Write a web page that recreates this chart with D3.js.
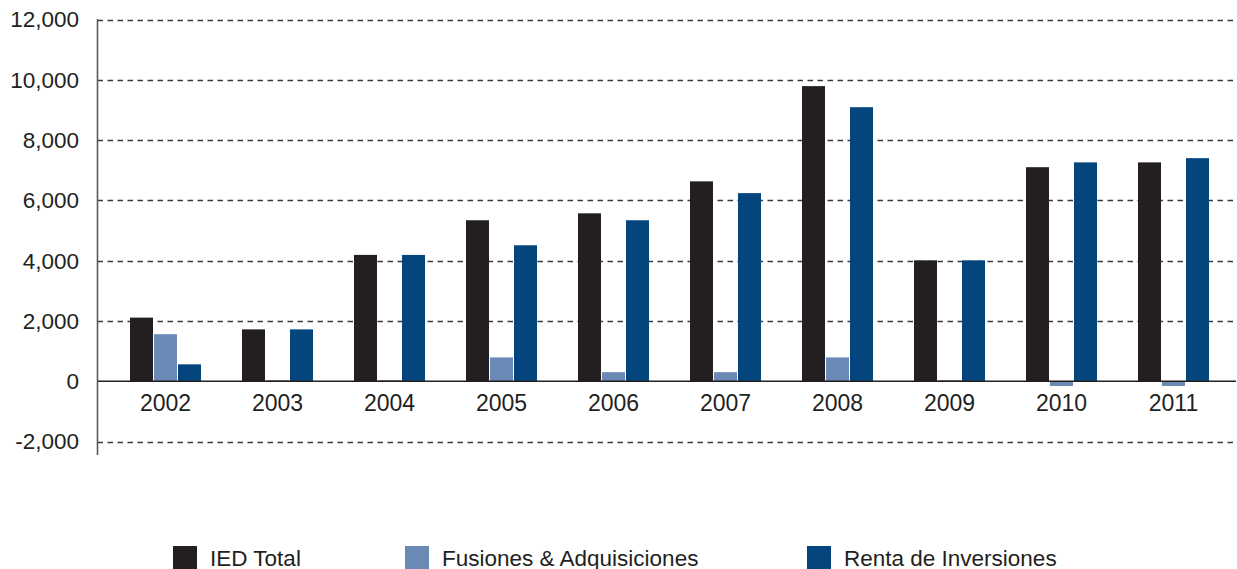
<!DOCTYPE html>
<html>
<head>
<meta charset="utf-8">
<script src="https://cdn.jsdelivr.net/npm/d3@7/dist/d3.min.js"></script>
<style>
  html, body { margin: 0; padding: 0; background: #fff; }
  svg { display: block; }
  text { font-family: "Liberation Sans", Arial, Helvetica, sans-serif; fill: #231f20; }
</style>
</head>
<body>
<svg id="chart" width="1237" height="569"></svg>
<script>
const years = ["2002","2003","2004","2005","2006","2007","2008","2009","2010","2011"];
const iedTotal = [2110, 1720, 4190, 5340, 5570, 6630, 9790, 4010, 7100, 7260];
const fusiones = [1560, 30, 30, 790, 300, 300, 790, 30, -160, -160];
const renta = [560, 1720, 4190, 4510, 5340, 6240, 9090, 4010, 7260, 7400];
const seriesNames = ["IED Total", "Fusiones & Adquisiciones", "Renta de Inversiones"];
const seriesColors = ["#231f20", "#6a8ab5", "#03457c"];
const yTicks = [-2000, 0, 2000, 4000, 6000, 8000, 10000, 12000];

const seriesValues = [iedTotal, fusiones, renta];
const svg = d3.select("#chart");

const axisX = 97.5, rightEdge = 1236;
const y = d3.scaleLinear().domain([-2000, 12000]).range([441.5, 19.5]);
const x = d3.scaleBand().domain(years).range([109.5, 1229.5]).paddingInner(0).paddingOuter(0);
const barW = 23, barStep = 24;
const groupW = barStep * 2 + barW;

// grid lines
svg.append("g").selectAll("line").data(yTicks.filter(t => t !== 0)).join("line")
  .attr("x1", axisX).attr("x2", rightEdge)
  .attr("y1", d => Math.round(y(d)) + 0.5).attr("y2", d => Math.round(y(d)) + 0.5)
  .attr("stroke", "#3a3a3a").attr("stroke-width", 1.3)
  .attr("stroke-dasharray", "5.5,4.5");

// bars
const data = [];
years.forEach((yr, i) => seriesValues.forEach((vals, s) => data.push({yr, s, v: vals[i]})));
svg.append("g").selectAll("rect").data(data).join("rect")
  .attr("x", d => x(d.yr) + (x.bandwidth() - groupW) / 2 + d.s * barStep)
  .attr("width", barW)
  .attr("y", d => Math.min(y(d.v), y(0)))
  .attr("height", d => Math.max(1, Math.abs(y(d.v) - y(0))))
  .attr("fill", d => (Math.abs(d.v) < 50 && d.s === 1) ? "#6d6d6d" : seriesColors[d.s]);

// zero line
svg.append("line")
  .attr("x1", axisX).attr("x2", rightEdge)
  .attr("y1", y(0)).attr("y2", y(0))
  .attr("stroke", "#231f20").attr("stroke-width", 1.6);

// y axis line
svg.append("line")
  .attr("x1", axisX).attr("x2", axisX)
  .attr("y1", 19).attr("y2", 455)
  .attr("stroke", "#5a5a5a").attr("stroke-width", 1.6);

// y tick labels
const fmt = d3.format(",");
svg.append("g").selectAll("text").data(yTicks).join("text")
  .attr("x", 79).attr("y", d => y(d))
  .attr("dy", "0.35em")
  .attr("text-anchor", "end")
  .attr("font-size", 22.5)
  .text(d => d < 0 ? "-" + fmt(-d) : fmt(d));

// x labels
svg.append("g").selectAll("text").data(years).join("text")
  .attr("x", d => x(d) + x.bandwidth() / 2)
  .attr("y", 411)
  .attr("text-anchor", "middle")
  .attr("font-size", 23)
  .text(d => d);

// legend
const legendX = [173, 405, 807];
const lg = svg.append("g").selectAll("g").data(seriesNames).join("g")
  .attr("transform", (d, i) => `translate(${legendX[i]},546)`);
lg.append("rect").attr("width", 24).attr("height", 24).attr("fill", (d, i) => seriesColors[i]);
lg.append("text").attr("x", 37).attr("y", 19.5).attr("font-size", 22.5).text(d => d);
</script>
</body>
</html>
